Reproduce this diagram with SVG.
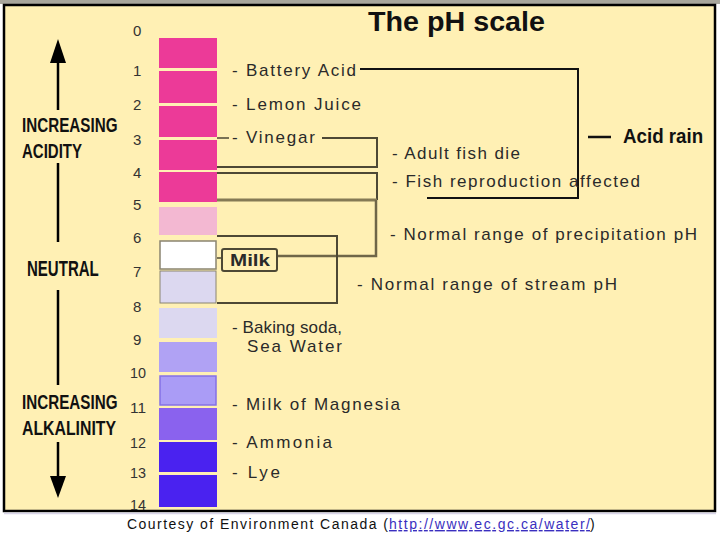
<svg xmlns="http://www.w3.org/2000/svg" width="720" height="540" viewBox="0 0 720 540">
<style>
.lbl{font-family:"Liberation Sans",Arial,sans-serif;font-size:17px;fill:#2a2a2a}
.num{font-family:"Liberation Sans",Arial,sans-serif;font-size:15px;fill:#333}
.hd{font-family:"Liberation Sans",Arial,sans-serif;font-weight:bold;fill:#111}
.br{fill:none;stroke:#4d4835;stroke-width:2}
.bk{fill:none;stroke:#111;stroke-width:2}
</style>
<rect x="0" y="0" width="720" height="540" fill="#ffffff"/>
<rect x="0" y="0" width="720" height="4" fill="#a8a69c"/>
<rect x="4" y="5" width="711" height="506" fill="#fff0b4" stroke="#000" stroke-width="2.5"/>
<line x1="4" y1="513.5" x2="716" y2="513.5" stroke="#d8d4e8" stroke-width="1.5"/>

<g id="title"><text class="hd" x="368" y="31" font-size="28" textLength="177" lengthAdjust="spacingAndGlyphs">The pH scale</text></g>

<g id="axis">
<line x1="58" y1="60" x2="58" y2="110" stroke="#000" stroke-width="2.5"/>
<polygon points="58,39 50,63 66,63" fill="#000"/>
<line x1="58" y1="163" x2="58" y2="242" stroke="#000" stroke-width="2.5"/>
<line x1="58" y1="290" x2="58" y2="385" stroke="#000" stroke-width="2.5"/>
<line x1="58" y1="442" x2="58" y2="480" stroke="#000" stroke-width="2.5"/>
<polygon points="58,498 50,476 66,476" fill="#000"/>
<text class="hd" transform="translate(22,132) scale(0.77,1)" font-size="20" textLength="124" lengthAdjust="spacingAndGlyphs">INCREASING</text>
<text class="hd" transform="translate(22,158) scale(0.75,1)" font-size="20" textLength="80" lengthAdjust="spacingAndGlyphs">ACIDITY</text>
<text class="hd" transform="translate(27,276) scale(0.69,1)" font-size="22" textLength="104" lengthAdjust="spacingAndGlyphs">NEUTRAL</text>
<text class="hd" transform="translate(22,409) scale(0.77,1)" font-size="20" textLength="124" lengthAdjust="spacingAndGlyphs">INCREASING</text>
<text class="hd" transform="translate(22,435) scale(0.79,1)" font-size="20" textLength="119" lengthAdjust="spacingAndGlyphs">ALKALINITY</text>
</g>

<g id="scale">
<rect x="159" y="38" width="58" height="30" fill="#ec3a98"/>
<rect x="159" y="71" width="58" height="32" fill="#ec3a98"/>
<rect x="159" y="106" width="58" height="31" fill="#ec3a98"/>
<rect x="159" y="140" width="58" height="30" fill="#ec3a98"/>
<rect x="159" y="172" width="58" height="30" fill="#ec3a98"/>
<rect x="159" y="207" width="58" height="28" fill="#f3b8d2"/>
<rect x="160" y="241" width="56" height="28" fill="#ffffff" stroke="#8a8470" stroke-width="1.5"/>
<rect x="160" y="271" width="56" height="32" fill="#dcd8f0" stroke="#8a8470" stroke-width="1"/>
<rect x="159" y="308" width="58" height="30" fill="#dcd8f0"/>
<rect x="159" y="342" width="58" height="30" fill="#b0a2f4"/>
<rect x="160" y="376" width="56" height="29" fill="#aa9cf6" stroke="#8470e6" stroke-width="1.5"/>
<rect x="159" y="408" width="58" height="32" fill="#8a62ee"/>
<rect x="159" y="442" width="58" height="30" fill="#4a22f0"/>
<rect x="159" y="475" width="58" height="32" fill="#4a22f0"/>
<text class="num" x="133" y="36">0</text>
<text class="num" x="133" y="76">1</text>
<text class="num" x="133" y="110">2</text>
<text class="num" x="133" y="145">3</text>
<text class="num" x="133" y="178">4</text>
<text class="num" x="133" y="210">5</text>
<text class="num" x="133" y="243">6</text>
<text class="num" x="133" y="277">7</text>
<text class="num" x="133" y="312">8</text>
<text class="num" x="133" y="345">9</text>
<text class="num" x="130" y="378" textLength="16" lengthAdjust="spacingAndGlyphs">10</text>
<text class="num" x="130" y="413" textLength="16" lengthAdjust="spacingAndGlyphs">11</text>
<text class="num" x="130" y="448" textLength="16" lengthAdjust="spacingAndGlyphs">12</text>
<text class="num" x="130" y="478" textLength="16" lengthAdjust="spacingAndGlyphs">13</text>
<text class="num" x="130" y="510" textLength="16" lengthAdjust="spacingAndGlyphs">14</text>
</g>

<g id="connectors">
<path class="bk" d="M360,69 H578 V198 H427"/>
<line x1="588" y1="137" x2="611" y2="137" stroke="#111" stroke-width="2.5"/>
<line x1="217" y1="138" x2="229" y2="138" stroke="#4d4835" stroke-width="1.5"/>
<path class="br" d="M322,138 H377 V167 H217"/>
<path class="br" d="M217,173 H377 V200"/>
<line x1="217" y1="200" x2="377" y2="200" stroke="#857a55" stroke-width="3"/>
<path d="M376,200 V256 H277" fill="none" stroke="#6f6648" stroke-width="2.5"/>
<line x1="217" y1="258" x2="222" y2="258" stroke="#4d4835" stroke-width="1.5"/>
<path class="br" d="M217,236 H337 V303 H217"/>
</g>

<g id="milk">
<rect x="222" y="249" width="55" height="22" rx="2" fill="#fff0b4" stroke="#4d4835" stroke-width="2"/>
<text class="lbl" x="230" y="266" font-weight="bold" font-size="16" textLength="40" lengthAdjust="spacingAndGlyphs">Milk</text>
</g>

<g id="labels">
<text class="lbl" x="232" y="76" textLength="124">- Battery Acid</text>
<text class="lbl" x="232" y="110" textLength="129">- Lemon Juice</text>
<text class="lbl" x="232" y="143" textLength="83">- Vinegar</text>
<text class="lbl" x="392" y="159" textLength="128">- Adult fish die</text>
<text class="lbl" x="392" y="187" textLength="248">- Fish reproduction affected</text>
<text class="lbl" x="390" y="240" textLength="307">- Normal range of precipitation pH</text>
<text class="lbl" x="357" y="290" textLength="260">- Normal range of stream pH</text>
<text class="lbl" x="232" y="333" textLength="110">- Baking soda,</text>
<text class="lbl" x="247" y="352" textLength="95">Sea Water</text>
<text class="lbl" x="232" y="410" textLength="168">- Milk of Magnesia</text>
<text class="lbl" x="232" y="448" textLength="100">- Ammonia</text>
<text class="lbl" x="232" y="478" textLength="48">- Lye</text>
</g>

<g id="acidrain"><text class="hd" transform="translate(623,143) scale(0.89,1)" font-size="21" textLength="90" lengthAdjust="spacingAndGlyphs">Acid rain</text></g>

<g id="caption">
<text x="127" y="529" font-family="'Liberation Sans',Arial,sans-serif" font-size="14" fill="#111" textLength="261">Courtesy of Environment Canada (</text>
<text x="389" y="529" font-family="'Liberation Sans',Arial,sans-serif" font-size="14" fill="#3a2fc0" text-decoration="underline" textLength="201">http://www.ec.gc.ca/water/</text>
<text x="590" y="529" font-family="'Liberation Sans',Arial,sans-serif" font-size="14" fill="#111">)</text>
</g>
</svg>
